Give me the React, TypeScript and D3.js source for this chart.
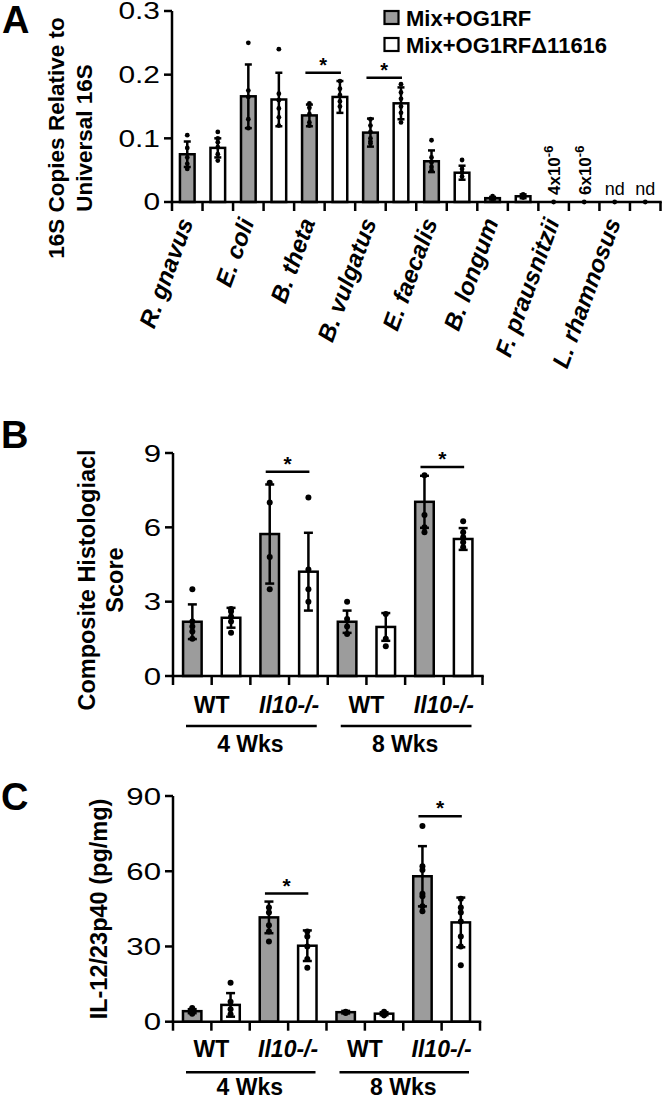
import React from 'react';
import * as d3 from 'd3';

const FONT = "'Liberation Sans', Arial, Helvetica, sans-serif";
const GRAY = '#9c9c9c';

// ---- panel A: 16S copies relative to universal 16S
const species = ['R. gnavus', 'E. coli', 'B. theta', 'B. vulgatus', 'E. faecalis', 'B. longum', 'F. prausnitzii', 'L. rhamnosus'];
const aMixMean = [0.075, 0.166, 0.136, 0.109, 0.064, 0.006, 0.000004, 0];
const aMixSd = [0.02, 0.05, 0.017, 0.022, 0.017, 0.002, 0, 0];
const aMixPts = [
  [0.105, 0.085, 0.07, 0.06, 0.052],
  [0.25, 0.175, 0.165, 0.13, 0.116],
  [0.155, 0.148, 0.138, 0.125, 0.12],
  [0.13, 0.12, 0.11, 0.1, 0.095, 0.092],
  [0.097, 0.07, 0.062, 0.055, 0.05],
  [0.009, 0.006, 0.004],
  [0.000004],
  [0],
];
const aDelMean = [0.085, 0.161, 0.165, 0.155, 0.046, 0.009, 0.000006, 0];
const aDelSd = [0.015, 0.042, 0.025, 0.025, 0.011, 0.003, 0, 0];
const aDelPts = [
  [0.11, 0.1, 0.094, 0.086, 0.075, 0.065],
  [0.24, 0.17, 0.16, 0.147, 0.133, 0.12],
  [0.19, 0.178, 0.168, 0.158, 0.15],
  [0.185, 0.172, 0.162, 0.15, 0.14, 0.125],
  [0.066, 0.052, 0.046, 0.04],
  [0.012, 0.009, 0.007],
  [0.000006],
  [0],
];
const aTicks = [0, 0.1, 0.2, 0.3];
const aNotes = ['4x10', '6x10', 'nd', 'nd'];
const aSig = [{ i: 2, v: 0.203 }, { i: 3, v: 0.195 }];
const legendLabels = ['Mix+OG1RF', 'Mix+OG1RF\u039411616'];

// ---- panels B and C share the same groups
const groups = ['WT', 'Il10-/-', 'WT', 'Il10-/-'];
const weeks = ['4 Wks', '8 Wks'];

const bMixMean = [2.19, 5.73, 2.19, 7.03];
const bMixSd = [0.7, 2.0, 0.45, 1.05];
const bMixPts = [[3.5, 2.2, 2.0, 1.8, 1.5], [7.8, 7.0, 4.8, 3.5], [3.0, 2.3, 2.0, 1.7], [8.1, 6.5, 6.0, 5.8]];
const bDelMean = [2.35, 4.21, 1.98, 5.53];
const bDelSd = [0.4, 1.57, 0.56, 0.44];
const bDelPts = [[2.7, 2.6, 2.4, 2.2, 1.75], [7.2, 4.3, 3.5, 3.0], [2.5, 1.5, 1.2], [6.25, 5.8, 5.6, 5.4, 5.2]];
const bTicks = [0, 3, 6, 9];
const bSig = [{ i: 1, v: 8.24 }, { i: 3, v: 8.44 }];

const cMixMean = [4.2, 41.6, 3.8, 58];
const cMixSd = [0.8, 6.3, 0.5, 12];
const cMixPts = [[5.5, 4.5, 3.8, 3.2], [45.5, 43.5, 38.5, 36, 32], [4, 3.5], [78, 62, 60.5, 51, 50, 46, 44]];
const cDelMean = [6.7, 30.3, 3.2, 39.6];
const cDelSd = [4.7, 6.1, 0.6, 9.9];
const cDelPts = [[15.5, 8, 5, 3], [36, 34, 30, 25, 21.5], [4, 3, 2.5], [49, 45.5, 43.5, 40, 34, 30, 22.5]];
const cTicks = [0, 30, 60, 90];
const cSig = [{ i: 1, v: 51.1 }, { i: 3, v: 81.9 }];

type Bar = { slot: number; mean: number; sd: number; pts: number[]; fill: string };

function BarMarks({ bars, x, y, barFrac, cap, r }: any) {
  const bw = x.bandwidth();
  const w = bw * barFrac;
  return (
    <g>
      {bars.map((b: Bar, k: number) => {
        const cx = x(b.slot) + bw / 2;
        const h = y(0) - y(b.mean);
        return (
          <g key={k}>
            {h > 0.5 && (
              <rect x={cx - w / 2} y={y(b.mean)} width={w} height={h} fill={b.fill} stroke="#000" strokeWidth={2.5} />
            )}
            {b.sd > 0 && (
              <g stroke="#000" strokeWidth={2.5}>
                <line x1={cx} x2={cx} y1={y(b.mean - b.sd)} y2={y(b.mean + b.sd)} />
                <line x1={cx - cap / 2} x2={cx + cap / 2} y1={y(b.mean + b.sd)} y2={y(b.mean + b.sd)} />
                <line x1={cx - cap / 2} x2={cx + cap / 2} y1={y(b.mean - b.sd)} y2={y(b.mean - b.sd)} />
              </g>
            )}
            {b.pts.map((p, j) => (
              <circle key={j} cx={cx} cy={y(p)} r={r} fill="#000" />
            ))}
          </g>
        );
      })}
    </g>
  );
}

function Axes({ x, y, ticks, fmt, fontSize }: any) {
  const [x0, x1] = x.range();
  const n = x.domain().length;
  const bw = x.bandwidth();
  const y0 = y(0);
  return (
    <g stroke="#000" strokeWidth={2.5}>
      <line x1={x0} x2={x0} y1={y(ticks[ticks.length - 1])} y2={y0} />
      <line x1={x0 - 1.25} x2={x1 + 1.25} y1={y0} y2={y0} />
      {ticks.map((t: number) => (
        <g key={t}>
          <line x1={x0 - 8} x2={x0} y1={y(t)} y2={y(t)} />
          {/* the source tick numbers are drawn wide, so stretch them a little */}
          <text transform={`translate(${x0 - 12},${y(t)}) scale(1.3,1)`} dy="0.36em" textAnchor="end" stroke="none" fill="#000"
            fontFamily={FONT} fontSize={fontSize}>{fmt(t)}</text>
        </g>
      ))}
      {d3.range(n + 1).map((i) => (
        <line key={i} x1={x0 + i * bw} x2={x0 + i * bw} y1={y0} y2={y0 + 9} />
      ))}
    </g>
  );
}

function Sig({ x, y, sig, size }: any) {
  const bw = x.bandwidth();
  return (
    <g>
      {sig.map((s: any, k: number) => {
        const a = x(s.i * 2) + bw / 2 - 4;
        const b = x(s.i * 2 + 1) + bw / 2 + 1;
        return (
          <g key={k}>
            <line x1={a} x2={b} y1={y(s.v)} y2={y(s.v)} stroke="#000" strokeWidth={2.5} />
            <text x={(a + b) / 2} y={y(s.v) - 1} textAnchor="middle" fontFamily={FONT} fontWeight="bold" fontSize={size}>*</text>
          </g>
        );
      })}
    </g>
  );
}

function PanelA() {
  const x = d3.scaleBand<number>().domain(d3.range(16)).range([172, 660.5]);
  const y = d3.scaleLinear().domain([0, 0.3]).range([202, 11]);
  const bw = x.bandwidth();
  const bars: Bar[] = species.flatMap((_, i) => [
    { slot: 2 * i, mean: aMixMean[i], sd: aMixSd[i], pts: aMixPts[i], fill: GRAY },
    { slot: 2 * i + 1, mean: aDelMean[i], sd: aDelSd[i], pts: aDelPts[i], fill: '#fff' },
  ]);
  return (
    <g>
      <text x={2} y={33} fontFamily={FONT} fontWeight="bold" fontSize={38}>A</text>
      <g fontFamily={FONT} fontWeight="bold" fontSize={22.5} textAnchor="middle">
        <text transform="translate(64,138) rotate(-90)">16S Copies Relative to</text>
        <text transform="translate(92,138) rotate(-90)">Universal 16S</text>
      </g>
      <BarMarks bars={bars} x={x} y={y} barFrac={0.48} cap={7} r={2.4} />
      <Sig x={x} y={y} sig={aSig} size={20} />
      <Axes x={x} y={y} ticks={aTicks} fmt={(t: number) => (t === 0 ? '0' : d3.format('.1f')(t))} fontSize={23} />
      {species.map((s, i) => {
        const c = x(2 * i)! + bw;
        return (
          <text key={s} transform={`translate(${c - 9},222) rotate(-70)`} textAnchor="end"
            fontFamily={FONT} fontWeight="bold" fontStyle="italic" fontSize={24}>{s}</text>
        );
      })}
      {aNotes.map((n, k) => {
        const cx = x(12 + k)! + bw / 2;
        if (n === 'nd') {
          return (
            <text key={k} x={cx} y={195} textAnchor="middle" fontFamily={FONT} fontSize={18}>{n}</text>
          );
        }
        return (
          <text key={k} transform={`translate(${cx + 6.5},195) rotate(-90)`} fontFamily={FONT} fontWeight="bold" fontSize={17}>
            {n}<tspan dy={-7} fontSize={13}>-6</tspan>
          </text>
        );
      })}
      <g fontFamily={FONT} fontWeight="bold" fontSize={22}>
        {legendLabels.map((l, k) => (
          <g key={l}>
            <rect x={384.5} y={11 + k * 27} width={14} height={13} fill={k === 0 ? GRAY : '#fff'} stroke="#000" strokeWidth={2.2} />
            <text x={406} y={25.5 + k * 27}>{l}</text>
          </g>
        ))}
      </g>
    </g>
  );
}

function GroupPanel({ letter, letterY, yLines, yLineX, yMid, domain, range, xEnd, ticks, mix, del, sig, lab }: any) {
  const x = d3.scaleBand<number>().domain(d3.range(8)).range([173, xEnd]);
  const y = d3.scaleLinear().domain(domain).range(range);
  const bw = x.bandwidth();
  const y0 = y(0);
  const bars: Bar[] = groups.flatMap((_, i) => [
    { slot: 2 * i, mean: mix.mean[i], sd: mix.sd[i], pts: mix.pts[i], fill: GRAY },
    { slot: 2 * i + 1, mean: del.mean[i], sd: del.sd[i], pts: del.pts[i], fill: '#fff' },
  ]);
  return (
    <g>
      <text x={1} y={letterY} fontFamily={FONT} fontWeight="bold" fontSize={38}>{letter}</text>
      <g fontFamily={FONT} fontWeight="bold" fontSize={23.5} textAnchor="middle">
        {yLines.map((l: string, k: number) => (
          <text key={k} transform={`translate(${yLineX[k]},${yMid}) rotate(-90)`}>{l}</text>
        ))}
      </g>
      <BarMarks bars={bars} x={x} y={y} barFrac={0.48} cap={9} r={3} />
      <Sig x={x} y={y} sig={sig} size={21} />
      <Axes x={x} y={y} ticks={ticks} fmt={(t: number) => String(t)} fontSize={24} />
      <g fontFamily={FONT} fontWeight="bold" fontSize={23} textAnchor="middle">
        {groups.map((g, i) => (
          <text key={i} x={x(2 * i)! + bw} y={y0 + lab[0]} fontStyle={i % 2 ? 'italic' : 'normal'}>{g}</text>
        ))}
        {weeks.map((w, k) => {
          const a = x(4 * k)!;
          const b = a + 4 * bw;
          return (
            <g key={w}>
              <line x1={a + 13} x2={b - 11} y1={y0 + lab[1]} y2={y0 + lab[1]} stroke="#000" strokeWidth={2.5} />
              <text x={(a + b) / 2} y={y0 + lab[2]}>{w}</text>
            </g>
          );
        })}
      </g>
    </g>
  );
}

export default function App() {
  return (
    <svg width={664} height={1100} style={{ position: 'absolute', left: 0, top: 0, background: '#fff' }}>
      <rect width={664} height={1100} fill="#fff" />
      <PanelA />
      <GroupPanel letter="B" letterY={448} yLines={['Composite Histologiacl', 'Score']} yLineX={[95, 123]} yMid={580}
        domain={[0, 9]} range={[676, 453]} xEnd={482.5} ticks={bTicks}
        mix={{ mean: bMixMean, sd: bMixSd, pts: bMixPts }} del={{ mean: bDelMean, sd: bDelSd, pts: bDelPts }}
        sig={bSig} lab={[37, 50, 76]} />
      <GroupPanel letter="C" letterY={810} yLines={['IL-12/23p40 (pg/mg)']} yLineX={[107]} yMid={909}
        domain={[0, 90]} range={[1021.7, 796]} xEnd={480} ticks={cTicks}
        mix={{ mean: cMixMean, sd: cMixSd, pts: cMixPts }} del={{ mean: cDelMean, sd: cDelSd, pts: cDelPts }}
        sig={cSig} lab={[35, 50.5, 73.5]} />
    </svg>
  );
}
